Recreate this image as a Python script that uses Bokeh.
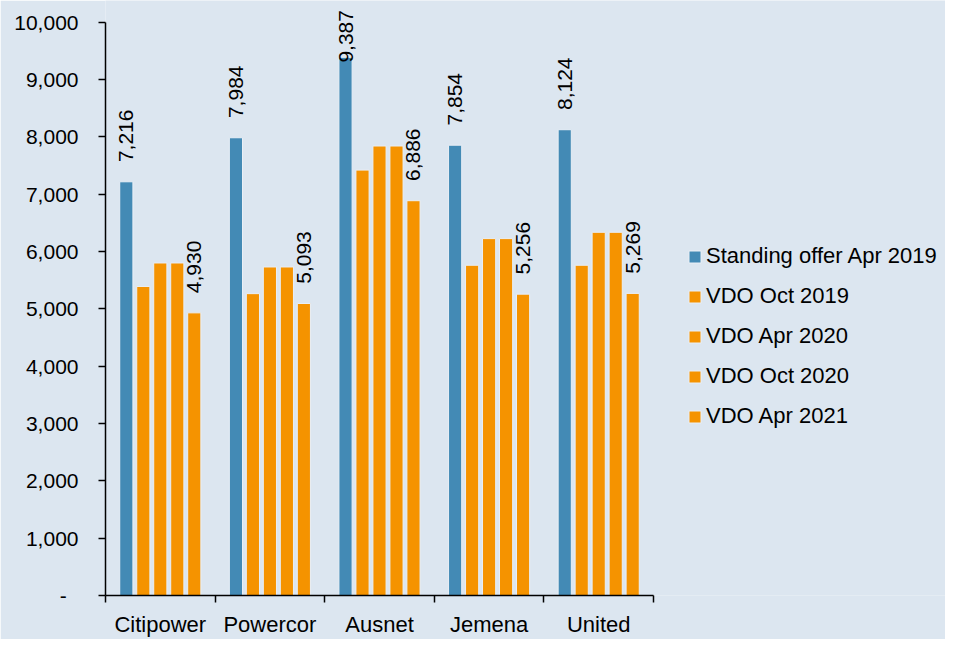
import numpy as np
from bokeh.plotting import figure
from bokeh.models import (ColumnDataSource, Range1d, FixedTicker, NumeralTickFormatter,
                          LabelSet, Legend, LegendItem)
from bokeh.core.properties import value
from bokeh.embed import file_html
from bokeh.resources import INLINE

# ---------------- data ----------------
categories = ["Citipower", "Powercor", "Ausnet", "Jemena", "United"]
series_names = ["Standing offer Apr 2019", "VDO Oct 2019", "VDO Apr 2020",
                "VDO Oct 2020", "VDO Apr 2021"]
standing_apr2019 = [7216, 7984, 9387, 7854, 8124]
vdo_oct2019 = [5390, 5265, 7420, 5760, 5760]
vdo_apr2020 = [5800, 5730, 7840, 6225, 6335]
vdo_oct2020 = [5800, 5730, 7840, 6225, 6335]
vdo_apr2021 = [4930, 5093, 6886, 5256, 5269]
y_ticks = list(range(0, 10001, 1000))
labelled_series = [0, 4]

# ---------------- style ----------------
BG = "#dce6f0"
BLUE = "#438ab5"
ORANGE = "#f59300"
OUTLINE = "#e9eff6"
FONT = "Liberation Sans"
colors = [BLUE, ORANGE, ORANGE, ORANGE, ORANGE]

W, H = 945, 639
LEFT = 105
BOTTOM = 35
TOP_GAP = 22                      # px between frame top and the 10,000 level
FRAME_W = W - LEFT
FRAME_H = H - BOTTOM
DATA_W = 548                      # px occupied by the 5 categories
n = len(categories)
x_end = -0.5 + n * FRAME_W / DATA_W
Y_MAX = 10000
px = Y_MAX / (FRAME_H - TOP_GAP)  # data units per pixel
y_end = Y_MAX + TOP_GAP * px

p = figure(width=W, height=H, x_range=Range1d(-0.5, x_end), y_range=Range1d(0, y_end),
           output_backend="svg", toolbar_location=None,
           min_border_left=LEFT, min_border_right=0, min_border_top=0, min_border_bottom=BOTTOM,
           background_fill_color=BG, border_fill_color=BG, outline_line_color=None)
p.xgrid.visible = False
p.ygrid.visible = False

all_series = [standing_apr2019, vdo_oct2019, vdo_apr2020, vdo_oct2020, vdo_apr2021]
step = 0.155
bar_w = 0.12
renderers = []
for k, vals in enumerate(all_series):
    xs = [i + (k - 2) * step for i in range(n)]
    src = ColumnDataSource(dict(x=xs, top=vals,
                                label=[f"{v:,}" for v in vals]))
    r = p.vbar(x="x", top="top", width=bar_w, bottom=0, source=src,
               fill_color=colors[k], line_color=OUTLINE, line_width=1)
    renderers.append(r)
    if k in labelled_series:
        pad = 20 * px
        lab_len = 53 * px
        top_limit = Y_MAX + 12 * px
        src.data["ly"] = [min(v + pad, top_limit - lab_len) for v in vals]
        ls = LabelSet(x="x", y="ly", text="label", source=src, angle=np.pi / 2,
                      text_align="left", text_baseline="middle",
                      text_font=value(FONT), text_font_size=value("21px"),
                      text_color=value("#000000"))
        p.add_layout(ls)

# y axis
ya = p.yaxis[0]
ya.ticker = FixedTicker(ticks=y_ticks)
ya.formatter = NumeralTickFormatter(format="0,0")
ya.major_label_overrides = {0: "-\u00a0\u00a0"}
ya.bounds = (0, Y_MAX)
ya.major_tick_out = 7
ya.major_tick_in = 0
ya.minor_tick_line_color = None
ya.axis_line_width = 1.5
ya.major_tick_line_width = 1.5
ya.axis_line_color = "#000000"
ya.major_label_standoff = 20
ya.major_label_text_font = FONT
ya.major_label_text_font_size = "21px"
ya.major_label_text_color = "#000000"

# x axis
xa = p.xaxis[0]
xa.ticker = FixedTicker(ticks=list(range(n)), minor_ticks=[i - 0.5 for i in range(n + 1)])
xa.major_label_overrides = {i: c for i, c in enumerate(categories)}
xa.bounds = (-0.5, n - 0.5)
xa.major_tick_out = 0
xa.major_tick_in = 0
xa.minor_tick_out = 7
xa.minor_tick_in = 0
xa.minor_tick_line_width = 1.5
xa.axis_line_width = 1.5
xa.axis_line_color = "#000000"
xa.minor_tick_line_color = "#000000"
xa.major_label_standoff = 9
xa.major_label_text_font = FONT
xa.major_label_text_font_size = "22px"
xa.major_label_text_color = "#000000"

legend = Legend(items=[LegendItem(label=s, renderers=[r]) for s, r in zip(series_names, renderers)],
                location=(582, 166), padding=0, margin=0, spacing=14,
                glyph_width=15, glyph_height=15, label_standoff=4, label_height=24,
                label_text_font=FONT, label_text_font_size="22px", label_text_color="#000000",
                background_fill_alpha=0, border_line_alpha=0)
p.add_layout(legend)

open("out.html", "w").write(file_html(p, INLINE))
